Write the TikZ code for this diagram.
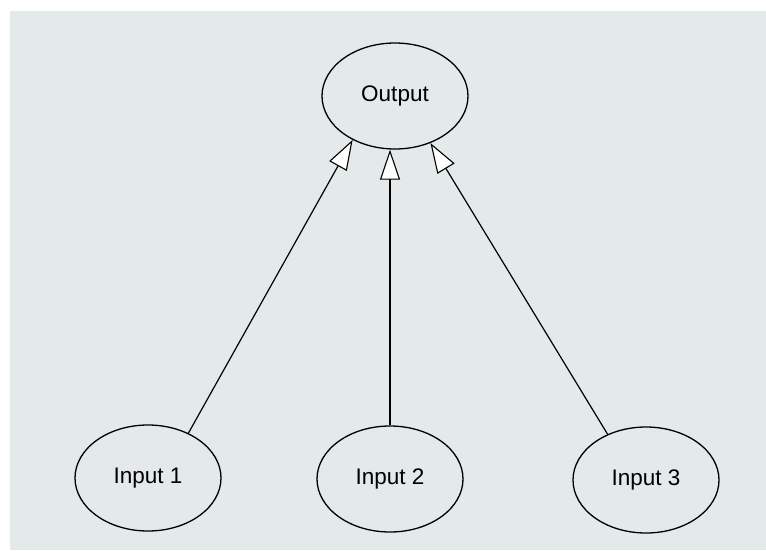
\documentclass[tikz,border=0pt]{standalone}
\usepackage{fontspec}
\setmainfont{Liberation Sans}
\usetikzlibrary{shapes.geometric,arrows.meta}
\definecolor{bggray}{RGB}{228,233,233}
\tikzstyle{unit}=[ellipse,draw,line width=1.3pt,fill=bggray,inner sep=0pt,minimum width=146pt,minimum height=106pt,font=\fontsize{22.5}{26}\selectfont]
\tikzstyle{link}=[line width=1.2pt,-{Triangle[length=30pt,width=20pt,fill=white,line width=1.1pt]}]

\begin{document}
\begin{tikzpicture}[x=1pt,y=-1pt]
\useasboundingbox (0,0) rectangle (766,550);
\fill[bggray] (10,11) rectangle (766,550);
\node[unit] at (395, 96) (out) {Output};
\node[unit] at (148, 478) (in1) {Input 1};
\node[unit] at (390, 479) (in2) {Input 2};
\node[unit] at (646, 480) (in3) {Input 3};
\draw[link] (in1.48) -- (out.226);
\draw[link] (in2.north) -- (in2.north |- out.south);
\draw[link] (in3.130) -- (out.307);
\end{tikzpicture}
\end{document}
